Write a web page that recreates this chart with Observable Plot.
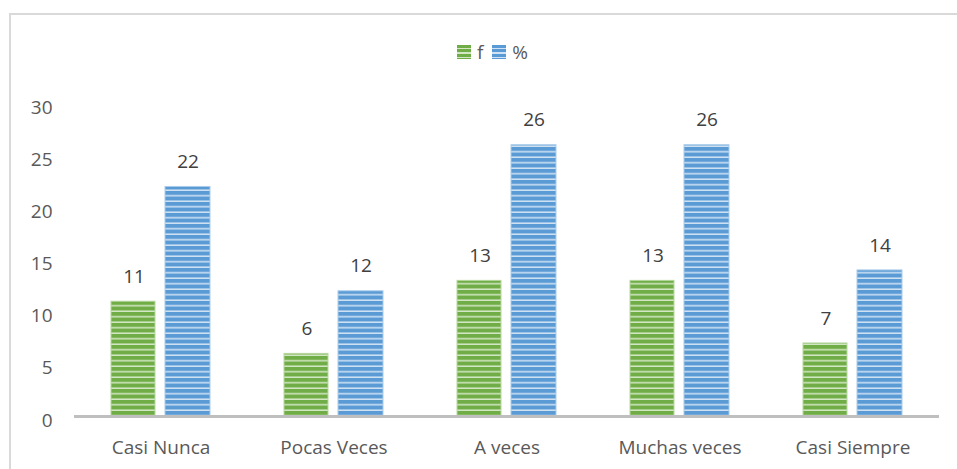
<!DOCTYPE html>
<html>
<head>
<meta charset="utf-8">
<script src="https://cdn.jsdelivr.net/npm/d3@7"></script>
<script src="https://cdn.jsdelivr.net/npm/@observablehq/plot@0.6"></script>
<style>
  html, body { margin: 0; padding: 0; background: #fff; }
  #wrap { position: relative; width: 957px; height: 469px; overflow: hidden; font-family: "Open Sans", Lato, sans-serif; }
  #frame { position: absolute; left: 9px; top: 13px; width: 1000px; height: 500px; border-left: 2px solid #d9d9d9; border-top: 2px solid #d9d9d9; }
  #legend { position: absolute; left: 0; top: 0; width: 957px; height: 70px; display: flex; justify-content: center; align-items: center; padding-top: 34px; box-sizing: border-box; gap: 9px; font-size: 19px; color: #595959; padding-left: 28px; }
  .item { display: flex; align-items: center; gap: 6px; }
  .sw { width: 14px; height: 14px; }
  #chart { position: absolute; left: 0; top: 70px; }
</style>
</head>
<body>
<div id="wrap">
  <div id="frame"></div>
  <div id="legend"></div>
  <div id="chart"></div>
</div>
<script>
const categories = ["Casi Nunca", "Pocas Veces", "A veces", "Muchas veces", "Casi Siempre"];
const seriesNames = ["f", "%"];
const fValues = [11, 6, 13, 13, 7];
const pctValues = [22, 12, 26, 26, 14];
const yTicks = [0, 5, 10, 15, 20, 25, 30];

const colors = { f: ["#70ad47", "#d3e7c5"], "%": ["#5b9bd5", "#d0e2f4"] };
const patId = { f: "pf", "%": "pp" };

const fData = categories.map((c, i) => ({ cat: c, series: "f", value: fValues[i] }));
const pData = categories.map((c, i) => ({ cat: c, series: "%", value: pctValues[i] }));

// legend
const legend = document.getElementById("legend");
seriesNames.forEach(s => {
  const it = document.createElement("div");
  it.className = "item";
  const sw = document.createElement("div");
  sw.className = "sw";
  sw.style.background = `repeating-linear-gradient(to bottom, ${colors[s][0]} 0px, ${colors[s][0]} 3px, ${colors[s][1]} 3px, ${colors[s][1]} 4.5px)`;
  const lb = document.createElement("span");
  lb.textContent = s;
  it.appendChild(sw); it.appendChild(lb);
  legend.appendChild(it);
});

const FONT = "'Open Sans', Lato, sans-serif";
const chart = Plot.plot({
  width: 957,
  height: 399,
  marginLeft: 74,
  marginRight: 18,
  marginTop: 33,
  marginBottom: 53,
  style: { fontFamily: FONT, fontSize: "19px", color: "#595959", background: "transparent" },
  x: { domain: categories, padding: 0, label: null },
  y: { domain: [0, 30], label: null },
  marks: [
    Plot.axisY({ ticks: yTicks, tickSize: 0, tickPadding: 22, dy: 4, fontSize: 19, fill: "#595959", label: null }),
    Plot.axisX({ tickSize: 0, tickPadding: 24, fontSize: 19, fill: "#595959", label: null }),
    Plot.barY(fData, { x: "cat", y: "value", fill: "url(#pf)", stroke: "#b5d79e", strokeWidth: 1, insetLeft: 37, insetRight: 92 }),
    Plot.barY(pData, { x: "cat", y: "value", fill: "url(#pp)", stroke: "#a9cbea", strokeWidth: 1, insetLeft: 91, insetRight: 37 }),
    Plot.ruleY([0], { stroke: "#bfbfbf", strokeWidth: 3 }),
    Plot.text(fData, { x: "cat", y: "value", text: d => String(d.value), dx: -27, dy: -25, fontSize: 19, fill: "#404040" }),
    Plot.text(pData, { x: "cat", y: "value", text: d => String(d.value), dx: 27, dy: -25, fontSize: 19, fill: "#404040" })
  ]
});

const svg = d3.select(chart);
const defs = svg.insert("defs", ":first-child");
seriesNames.forEach(s => {
  const p = defs.append("pattern").attr("id", patId[s]).attr("patternUnits", "userSpaceOnUse")
    .attr("width", 4).attr("height", 5.5);
  p.append("rect").attr("width", 4).attr("height", 5.5).attr("fill", colors[s][0]);
  p.append("rect").attr("y", 4).attr("width", 4).attr("height", 1.5).attr("fill", colors[s][1]);
});

document.getElementById("chart").appendChild(chart);
</script>
</body>
</html>
